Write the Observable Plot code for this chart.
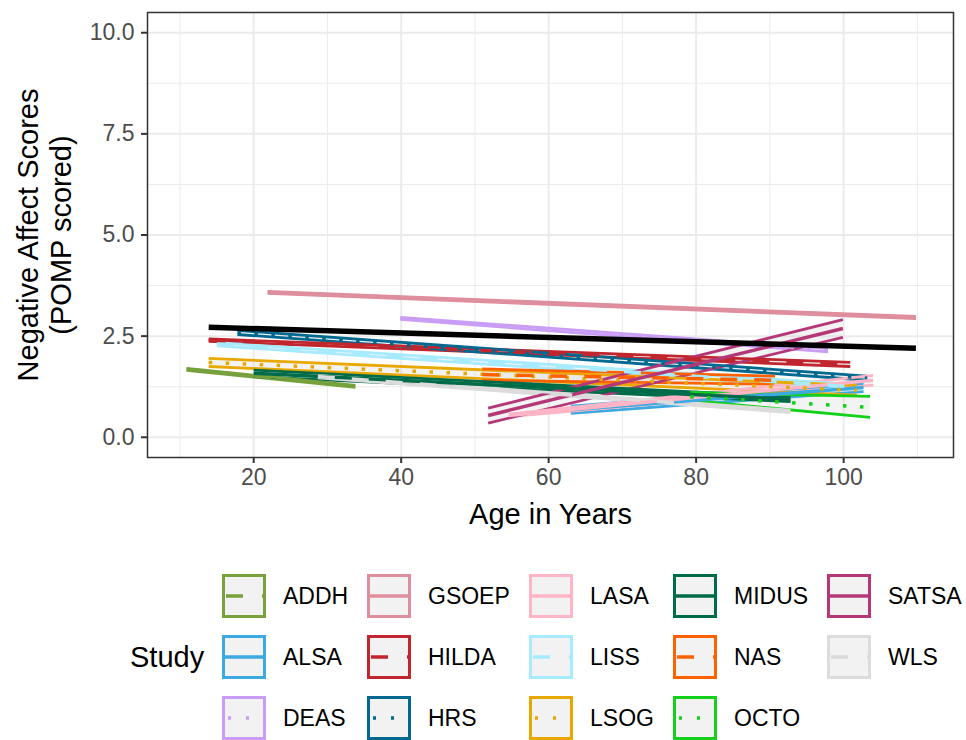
<!DOCTYPE html>
<html>
<head>
<meta charset="utf-8">
<script src="https://cdn.jsdelivr.net/npm/d3@7"></script>
<script src="https://cdn.jsdelivr.net/npm/@observablehq/plot@0.6"></script>
<style>
  body { margin: 0; background: #fff; }
  #chart svg { display: block; }
  #legend { display: block; }
</style>
</head>
<body>
<div id="chart"></div>
<svg id="legend" width="966" height="200"></svg>
<script>
// ---- data ----
const studies   = ["ADDH","ALSA","DEAS","GSOEP","HILDA","HRS","LASA","LISS","LSOG","MIDUS","NAS","OCTO","SATSA","WLS"];
const colours   = ["#77A13C","#3DA9E1","#C99DF5","#DE8E9C","#C1262E","#00698F","#FFB5C5","#A6EBFF","#E9A800","#006B48","#FF6100","#13D11A","#B43777","#DCDCDC"];
const linetypes = ["dashed","solid","dotted","solid","dashed","dotted","solid","dashed","dotted","solid","dashed","dotted","solid","dashed"];
const ageStart  = [10.9, 63.0, 39.9, 21.9, 13.9, 17.8, 54.6, 15.0, 13.9, 20.0, 51.0, 79.2, 51.8, 28.7];
const ageEnd    = [33.8, 102.7, 97.9, 109.8, 100.9, 103.2, 104.0, 101.0, 101.8, 92.8, 90.7, 103.6, 99.9, 92.8];
const fitStart  = [1.68, 0.68, 2.94, 3.58, 2.40, 2.59, 0.54, 2.30, 1.85, 1.58, 1.55, 1.00, 0.54, 1.50];
const fitEnd    = [1.26, 1.23, 2.15, 2.96, 1.80, 1.46, 1.41, 1.25, 1.16, 0.94, 1.41, 0.74, 2.69, 0.64];
const lowerStart= [1.655, 0.59, 2.915, 3.555, 2.37, 2.54, 0.51, 2.26, 1.75, 1.50, 1.41, 0.91, 0.35, 1.47];
const upperStart= [1.705, 0.77, 2.965, 3.605, 2.43, 2.64, 0.57, 2.34, 1.95, 1.66, 1.69, 1.11, 0.72, 1.53];
const lowerEnd  = [1.235, 1.13, 2.11, 2.935, 1.75, 1.41, 1.29, 1.19, 1.04, 0.88, 1.31, 0.49, 2.47, 0.61];
const upperEnd  = [1.285, 1.33, 2.19, 2.985, 1.85, 1.51, 1.53, 1.31, 1.28, 1.00, 1.51, 1.01, 2.91, 0.67];
const overallAge = [13.9, 109.8];
const overallFit = [2.72, 2.20];
const xTicks = [20, 40, 60, 80, 100];
const xMinor = [10, 30, 50, 70, 90, 110];
const yTicks = [0, 2.5, 5, 7.5, 10];
const yMinor = [1.25, 3.75, 6.25, 8.75];

// ---- tables ----
const rows = [];
studies.forEach((s, i) => {
  rows.push({study: s, age: ageStart[i], fit: fitStart[i], lower: lowerStart[i], upper: upperStart[i]});
  rows.push({study: s, age: ageEnd[i], fit: fitEnd[i], lower: lowerEnd[i], upper: upperEnd[i]});
});
const overall = overallAge.map((a, i) => ({age: a, fit: overallFit[i]}));

const dashPlot = {solid: null, dashed: "17 17", dotted: "3.5 13.5"};
const font = "'Liberation Sans', Arial, Helvetica, sans-serif";

const fitMarks = studies.map((s, i) =>
  Plot.line(rows.filter(r => r.study === s), {
    x: "age", y: "fit", stroke: colours[i], strokeWidth: 3.5,
    strokeDasharray: dashPlot[linetypes[i]] || undefined, strokeLinecap: "butt"
  })
);

const chart = Plot.plot({
  width: 966, height: 540,
  marginLeft: 147, marginRight: 13, marginTop: 12, marginBottom: 83,
  style: {fontFamily: font, background: "#fff", overflow: "visible"},
  x: {domain: [5.6, 114.9]},
  y: {domain: [-0.5, 10.5]},
  color: {domain: studies, range: colours},
  marks: [
    Plot.ruleX(xMinor, {stroke: "#EBEBEB", strokeWidth: 1}),
    Plot.ruleY(yMinor, {stroke: "#EBEBEB", strokeWidth: 1}),
    Plot.ruleX(xTicks, {stroke: "#EBEBEB", strokeWidth: 2}),
    Plot.ruleY(yTicks, {stroke: "#EBEBEB", strokeWidth: 2}),
    Plot.areaY(rows, {x: "age", y1: "lower", y2: "upper", z: "study", fill: "#cfcfcf", fillOpacity: 0.25}),
    Plot.line(rows, {x: "age", y: "lower", z: "study", stroke: "study", strokeWidth: 2.8, strokeLinecap: "butt"}),
    Plot.line(rows, {x: "age", y: "upper", z: "study", stroke: "study", strokeWidth: 2.8, strokeLinecap: "butt"}),
    ...fitMarks,
    Plot.line(overall, {x: "age", y: "fit", stroke: "#000", strokeWidth: 5.5, strokeLinecap: "butt"}),
    Plot.frame({stroke: "#333333", strokeWidth: 1.5}),
    Plot.axisX({ticks: xTicks, tickSize: 6, tickPadding: 5, fontSize: 23, stroke: "#333333", strokeWidth: 2, fill: "#4D4D4D", label: null}),
    Plot.axisY({ticks: yTicks, tickSize: 6, tickPadding: 7, fontSize: 23, tickFormat: d3.format(".1f"), stroke: "#333333", strokeWidth: 2, fill: "#4D4D4D", label: null}),
    Plot.text(["Age in Years"], {frameAnchor: "bottom", dy: 57, fontSize: 29, fill: "#000", lineAnchor: "middle"}),
    Plot.text(["Negative Affect Scores\n(POMP scored)"], {frameAnchor: "left", dx: -104, rotate: -90, fontSize: 29, lineHeight: 1.15, fill: "#000", lineAnchor: "middle", textAnchor: "middle"})
  ]
});
document.getElementById("chart").appendChild(chart);

// ---- legend ----
const lg = d3.select("#legend").style("font-family", font);
const colX = [222, 367, 529, 673, 827];
const rowY = [56, 117, 178];
const keySize = 44;
lg.append("text").attr("x", 130).attr("y", rowY[1]).attr("dy", "0.35em")
  .attr("font-size", 29).attr("fill", "#000").text("Study");
studies.forEach((s, i) => {
  const c = Math.floor(i / 3), r = i % 3;
  const x = colX[c], y = rowY[r] - keySize / 2;
  const g = lg.append("g");
  g.append("rect").attr("x", x + 1.5).attr("y", y + 1.5).attr("width", keySize - 3).attr("height", keySize - 3)
    .attr("fill", "#F2F2F2").attr("stroke", colours[i]).attr("stroke-width", 3);
  const ln = g.append("line").attr("y1", rowY[r]).attr("y2", rowY[r])
    .attr("stroke", colours[i]).attr("stroke-width", 3.5);
  if (linetypes[i] === "solid") { ln.attr("x1", x + 3).attr("x2", x + keySize - 3); }
  else if (linetypes[i] === "dashed") { ln.attr("x1", x + 4).attr("x2", x + keySize - 2).attr("stroke-dasharray", "17 19"); }
  else { ln.attr("x1", x + 3).attr("x2", x + keySize - 2).attr("stroke-dasharray", "3 15").attr("stroke-dashoffset", 15); }
  g.append("text").attr("x", x + keySize + 17).attr("y", rowY[r]).attr("dy", "0.35em")
    .attr("font-size", 23).attr("fill", "#000").text(s);
});
</script>
</body>
</html>
